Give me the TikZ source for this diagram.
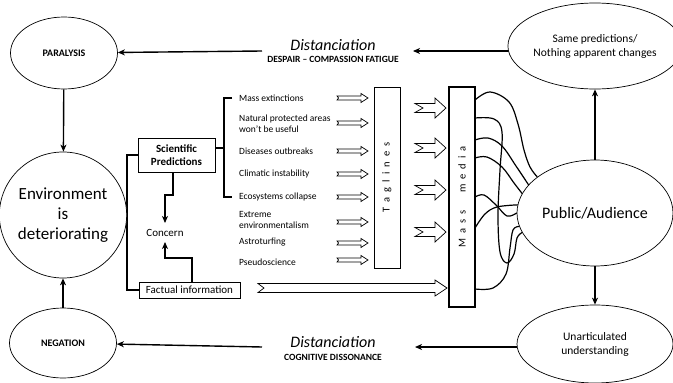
\documentclass[tikz,border=0pt]{standalone}
\usepackage{fontspec}
\setmainfont{Carlito}
\usetikzlibrary{shapes,arrows.meta}
\pgfdeclarelayer{edgelayer}
\pgfdeclarelayer{nodelayer}
\pgfsetlayers{edgelayer,nodelayer,main}
\tikzset{font=\fontsize{11}{13}\selectfont}
\tikzstyle{none}=[inner sep=0pt]
\tikzstyle{oval}=[ellipse,draw,fill=white,line width=0.7pt,inner sep=0pt,align=center]
\tikzstyle{box}=[rectangle,draw,fill=white,line width=0.7pt,inner sep=0pt,align=center]
\tikzstyle{item}=[inner sep=0pt,anchor=west,align=left,font=\fontsize{9.5}{11}\selectfont]
\tikzstyle{wire}=[line width=1.4pt]
\tikzstyle{arr}=[line width=1.4pt,-{Stealth[length=7pt,width=6pt,inset=2pt]}]
\tikzstyle{tangle}=[line width=1.2pt,line cap=round]
\tikzstyle{hollow}=[draw,fill=white,line width=0.7pt,line join=miter]
% x1, x2, y, half body, half head, head length, notch
\newcommand{\notcharrow}[7]{%
  \draw[style=hollow] (#1,#3-#4) -- (#2-#6,#3-#4) -- (#2-#6,#3-#5) -- (#2,#3)
    -- (#2-#6,#3+#5) -- (#2-#6,#3+#4) -- (#1,#3+#4) -- (#1+#7,#3) -- cycle;}

\begin{document}
\begin{tikzpicture}[x=1pt,y=-1pt]
	\useasboundingbox (0,0) rectangle (673,383);
	\begin{pgfonlayer}{nodelayer}
		\node [style=oval, minimum width=107pt, minimum height=72pt, font=\fontsize{10}{12}\bfseries] (0) at (64, 53) {PARALYSIS};
		\node [style=oval, minimum width=156pt, minimum height=86pt, font=\fontsize{11.5}{14}\selectfont] (1) at (595, 46) {Same predictions/\\Nothing apparent changes};
		\node [style=oval, minimum width=107pt, minimum height=126pt, font=\fontsize{17}{20}\selectfont] (2) at (63, 215) {Environment\\is\\deteriorating};
		\node [style=oval, minimum width=107pt, minimum height=70pt, font=\fontsize{10}{12}\bfseries] (3) at (63, 343) {NEGATION};
		\node [style=oval, minimum width=156pt, minimum height=78pt, font=\fontsize{11.5}{14}\selectfont] (4) at (595, 344) {Unarticulated\\understanding};
		\node [style=oval, minimum width=156pt, minimum height=106pt, font=\fontsize{16}{19}\selectfont] (8) at (595, 213) {Public/Audience};
		\node [style=none, font=\fontsize{16}{18}\itshape] (9) at (333, 45) {Distanciation};
		\node [style=none, font=\fontsize{9.5}{11}\bfseries] (10) at (333, 59) {DESPAIR -- COMPASSION FATIGUE};
		\node [style=none, font=\fontsize{16}{18}\itshape] (17) at (333, 342) {Distanciation};
		\node [style=none, font=\fontsize{9.5}{11}\bfseries] (18) at (333, 357) {COGNITIVE DISSONANCE};
		\node [style=box, rotate=90, minimum width=181pt, minimum height=26pt, font=\fontsize{10.5}{12}\selectfont] (11) at (387, 177.5) {\spaceskip=5pt T a g l i n e s};
		\node [style=box, rotate=90, minimum width=220pt, minimum height=26pt, line width=1.4pt, font=\fontsize{10.5}{12}\selectfont] (12) at (462, 197) {\spaceskip=5pt M a s s \hspace{8pt} m e d i a};
		\node [style=box, minimum width=77pt, minimum height=34pt, font=\fontsize{11}{13}\bfseries] (13) at (176.5, 155) {Scientific\\Predictions};
		\node [style=box, minimum width=101pt, minimum height=16pt] (14) at (189.5, 290) {Factual information};
		\node [style=none] (16) at (165, 233) {Concern};
		\node [style=item] (20) at (239, 98) {Mass extinctions};
		\node [style=item] (21) at (239, 124) {Natural protected areas\\won’t be useful};
		\node [style=item] (22) at (239, 151) {Diseases outbreaks};
		\node [style=item] (23) at (239, 174) {Climatic instability};
		\node [style=item] (24) at (239, 197) {Ecosystems collapse};
		\node [style=item] (25) at (239, 220) {Extreme\\environmentalism};
		\node [style=item] (26) at (239, 242) {Astroturfing};
		\node [style=item] (27) at (239, 262) {Pseudoscience};
		\node [style=none] (5) at (413, 51) {};
		\node [style=none] (6) at (517, 51) {};
		\node [style=none] (7) at (262, 51) {};
		\node [style=none] (15) at (415, 347) {};
		\node [style=none] (19) at (517, 347) {};
		\node [style=none] (28) at (262, 347) {};
		\node [style=none] (30) at (173, 172) {};
		\node [style=none] (31) at (173, 195) {};
		\node [style=none] (32) at (165, 195) {};
		\node [style=none] (33) at (165, 223) {};
		\node [style=none] (34) at (192, 282) {};
		\node [style=none] (35) at (192, 258) {};
		\node [style=none] (36) at (165, 258) {};
		\node [style=none] (37) at (165, 242) {};
		\node [style=none] (40) at (232, 98) {};
		\node [style=none] (41) at (224, 98) {};
		\node [style=none] (42) at (224, 197) {};
		\node [style=none] (43) at (232, 197) {};
		\node [style=none] (44) at (224, 148) {};
		\node [style=none] (50) at (127, 215) {};
		\coordinate (60) at (475, 100);
		\coordinate (61) at (475, 118);
		\coordinate (62) at (475, 140);
		\coordinate (63) at (475, 158);
		\coordinate (64) at (475, 197);
		\coordinate (65) at (475, 228);
		\coordinate (66) at (475, 289);
	\end{pgfonlayer}
	\begin{pgfonlayer}{edgelayer}
		\draw [style=arr] (6.center) to (5.center);
		\draw [style=arr] (7.center) to (0);
		\draw [style=arr] (19.center) to (15.center);
		\draw [style=arr] (28.center) to (3);
		\draw [style=arr] (0) to (2);
		\draw [style=arr] (3) to (2);
		\draw [style=arr] (8) to (1);
		\draw [style=arr] (8) to (4);
		\draw [style=wire] (2) to (50.center);
		\draw [style=wire] (13.west) -| (50.center) |- (14.west);
		\draw [style=wire] (40.center) to (41.center) to (42.center) to (43.center);
		\draw [style=wire] (13.east |- 44.center) to (44.center);
		\draw [style=arr] (30.center) to (31.center) to (32.center) to (33.center);
		\draw [style=arr] (34.center) to (35.center) to (36.center) to (37.center);
		\draw [style=tangle] plot [smooth, tension=0.6] coordinates {(60) (490,92) (509,102) (518,124) (524,150) (530,167) (8.148)};
		\draw [style=tangle] plot [smooth, tension=0.6] coordinates {(61) (494,119) (502,132) (500,170) (498,215) (500,252) (507,263) (514,254) (517,238) (8.195)};
		\draw [style=tangle] plot [smooth, tension=0.6] coordinates {(62) (488,138) (502,146) (516,166) (8.157)};
		\draw [style=tangle] plot [smooth, tension=0.6] coordinates {(63) (487,157) (502,167) (514,183) (8.165)};
		\draw [style=tangle] plot [smooth, tension=0.6] coordinates {(64) (484,195) (496,205) (507,216) (8.180)};
		\draw [style=tangle] plot [smooth, tension=0.6] coordinates {(65) (485,214) (497,207) (8.174)};
		\draw [style=tangle] plot [smooth, tension=0.6] coordinates {(66) (493,288) (506,274) (510,248) (513,230) (8.190)};
	\end{pgfonlayer}
	\notcharrow{337}{368}{98}{2}{4.5}{7}{1.5}
	\notcharrow{337}{368}{123}{2}{4.5}{7}{1.5}
	\notcharrow{337}{368}{151}{2}{4.5}{7}{1.5}
	\notcharrow{337}{368}{174}{2}{4.5}{7}{1.5}
	\notcharrow{337}{368}{197}{2}{4.5}{7}{1.5}
	\notcharrow{337}{368}{222}{2}{4.5}{7}{1.5}
	\notcharrow{337}{368}{243}{2}{4.5}{7}{1.5}
	\notcharrow{337}{368}{260}{2}{4.5}{7}{1.5}
	\notcharrow{415}{446}{108}{4.5}{10}{11}{8}
	\notcharrow{415}{446}{148}{4.5}{10}{11}{8}
	\notcharrow{415}{446}{190}{4.5}{10}{11}{8}
	\notcharrow{415}{446}{232}{4.5}{10}{11}{8}
	\notcharrow{258}{447}{288}{4.5}{8}{12}{6}
\end{tikzpicture}
\end{document}
